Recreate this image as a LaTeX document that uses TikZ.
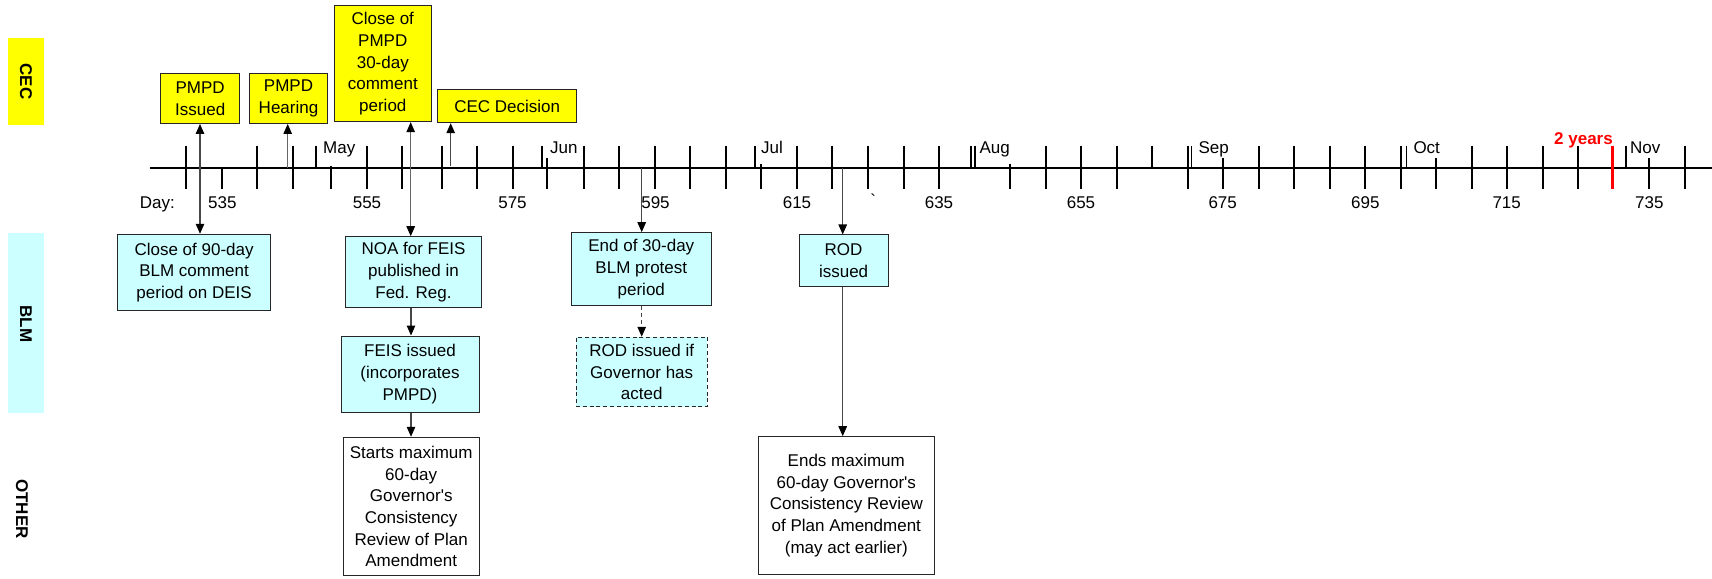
\documentclass[tikz,border=0pt]{standalone}
\usepackage{fontspec}
\newfontfamily\arial{Liberation Sans}
\usetikzlibrary{arrows.meta}
\definecolor{cecyellow}{HTML}{FFFF00}
\definecolor{blmcyan}{HTML}{CCFFFF}
\definecolor{redmark}{HTML}{FF0000}
\tikzset{Tri/.tip={Triangle[length=10pt,width=8.5pt,color=black]}}
\begin{document}
\begin{tikzpicture}[x=1pt,y=-1pt,
  every node/.style={font=\arial\fontsize{17}{21.7}\selectfont, inner sep=0pt},
  box/.style={draw=black!85, line width=1pt, align=center, inner sep=0pt},
  cecbox/.style={box, fill=cecyellow},
  blmbox/.style={box, fill=blmcyan},
  dashbox/.style={box, fill=blmcyan, dash pattern=on 4pt off 2.8pt},
  othbox/.style={box, fill=white},
  conn/.style={draw=black!72, line width=1.1pt, -Tri},
  conntwo/.style={draw=black!72, line width=1.1pt, Tri-Tri},
  lanelabel/.style={font=\arial\bfseries\fontsize{17}{20}\selectfont, rotate=-90},
  fulltick/.style={line width=2pt},
  monthtick/.style={line width=1.7pt},
  axislabel/.style={anchor=base},
  monthlabel/.style={anchor=base west}
]
\useasboundingbox (0,0) rectangle (1712,578);

% lane bands
\fill[cecyellow] (8.4,37.7) rectangle (44,125);
\fill[blmcyan] (8.3,232.7) rectangle (44,413.3);
\node[lanelabel] (laneCEC) at (26,81.5) {CEC};
\node[lanelabel] (laneBLM) at (26,324) {BLM};
\node[lanelabel] (laneOTH) at (22,509) {OTHER};

% axis
\draw[line width=2.3pt] (150,167.7) -- (1712,167.7);
\foreach \x in {185.7,256.7,292.7,366.7,401.7,441.7,477.3,512.7,584,619.3,655,690,726,796.7,832.3,867.7,904,939,1045.7,1081,1116.7,1188.3,1259,1294,1330,1365.3,1401,1471.7,1506.7,1543.3,1578.3,1685}
  \draw[fulltick] (\x,145.7) -- (\x,189.3);
\draw[fulltick] (221.7,167.7) -- (221.7,189.3);
\draw[fulltick] (330.7,165.7) -- (330.7,189.3);
\foreach \x in {547.3,1222.7,1436,1649.3}
  \draw[fulltick] (\x,158) -- (\x,189.3);
\foreach \x in {760.7,1010}
  \draw[fulltick] (\x,164) -- (\x,189.3);
\foreach \x in {975,1152.3}
  \draw[fulltick] (\x,145.7) -- (\x,167.7);
\foreach \x in {315.7,541.7,755,971.2,1191.5,1406.5,1625.7}
  \draw[monthtick] (\x,145.7) -- (\x,167.7);
\draw[redmark, line width=3.6pt] (1612.3,145.7) -- (1612.3,189.3);

% axis labels
\node[anchor=base east] (daylabel) at (175,208) {Day:};
\foreach \x/\t in {222.3/535,367/555,512.5/575,655.5/595,797/615,939/635,1081/655,1222.7/675,1365.3/695,1506.7/715,1649.3/735}
  \node[axislabel] at (\x,208) {\t};
\node[axislabel] (stray) at (873.3,206) {`};
\foreach \x/\t in {323/May,550/Jun,761/Jul,979.3/Aug,1198.3/Sep,1413.3/Oct,1630/Nov}
  \node[monthlabel] at (\x,153) {\t};
\node[anchor=base east, text=redmark, font=\arial\bfseries\fontsize{17}{20}\selectfont] (twoyears) at (1613,144) {2 years};

% CEC boxes
\node[cecbox, minimum width=78.5, minimum height=49.5] (pmpdI) at (200.2,98.7) {PMPD\\Issued};
\node[cecbox, minimum width=78, minimum height=49.5] (pmpdH) at (288.5,98.7) {PMPD\\Hearing};
\node[cecbox, minimum width=97.5, minimum height=115.7] (closeP) at (382.8,63.8) {Close of\\PMPD\\30-day\\comment\\period};
\node[cecbox, minimum width=138.5, minimum height=33.4] (cecD) at (507.2,106) {CEC Decision};

% BLM boxes
\node[blmbox, minimum width=153.4, minimum height=76.7] (cl90) at (194.1,272.6) {Close of 90-day\\BLM comment\\period on DEIS};
\node[blmbox, minimum width=136.8, minimum height=70.6] (noa) at (413.5,272) {NOA for FEIS\\published in\\Fed. Reg.};
\node[blmbox, minimum width=138, minimum height=76] (feis) at (410,374) {FEIS issued\\(incorporates\\PMPD)};
\node[blmbox, minimum width=140.6, minimum height=73.3] (end30) at (641.3,269.3) {End of 30-day\\BLM protest\\period};
\node[dashbox, minimum width=131.4, minimum height=69.7] (rodif) at (641.7,372.1) {ROD issued if\\Governor has\\acted};
\node[blmbox, minimum width=89.2, minimum height=51.7] (rod) at (843.6,260.8) {ROD\\issued};

% OTHER boxes
\node[othbox, minimum width=135.6, minimum height=138.7] (starts) at (411.2,506.6) {Starts maximum\\60-day\\Governor's\\Consistency\\Review of Plan\\Amendment};
\node[othbox, minimum width=176, minimum height=137.6] (ends) at (846.3,505.5) {Ends maximum\\60-day Governor's\\Consistency Review\\of Plan Amendment\\(may act earlier)};

% connector anchors on the axis
\coordinate (cI) at (200,167.7);
\coordinate (tH) at (287.7,167.7);
\coordinate (cP) at (410.7,167.7);
\coordinate (tD) at (450.7,165.7);
\coordinate (tE) at (641.7,167.7);
\coordinate (tR) at (842.7,167.7);
\coordinate (cF) at (411,300);

% connectors
\draw[conntwo] (cI |- pmpdI.south) -- (cI |- cl90.north);
\draw[conn, draw=black!60] (tH) -- (tH |- pmpdH.south);
\draw[conntwo, draw=black!60] (cP |- noa.north) -- (cP |- closeP.south);
\draw[conn] (tD) -- (tD |- cecD.south);
\draw[conn] (tE) -- (tE |- end30.north);
\draw[conn] (tR) -- (tR |- rod.north);
\draw[conn] (cF |- noa.south) -- (cF |- feis.north);
\draw[conn] (cF |- feis.south) -- (cF |- starts.north);
\draw[conn, dash pattern=on 4pt off 3pt] (tE |- end30.south) -- (tE |- rodif.north);
\draw[conn] (tR |- rod.south) -- (tR |- ends.north);
\end{tikzpicture}
\end{document}
